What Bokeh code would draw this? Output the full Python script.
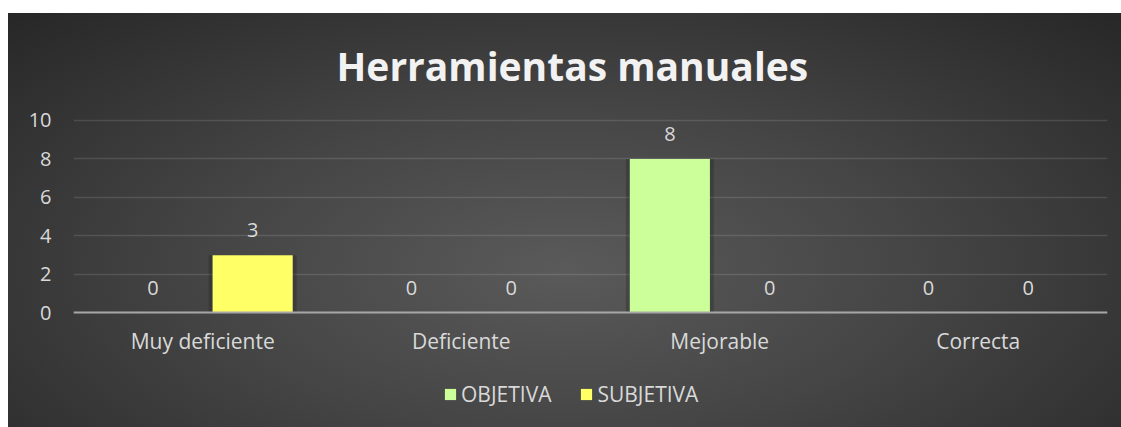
from bokeh.plotting import figure
from bokeh.models import (ColumnDataSource, Range1d, FixedTicker, Legend, LegendItem,
                          LabelSet, Title)
from bokeh.core.properties import value
from bokeh.transform import dodge
from bokeh.embed import file_html
from bokeh.resources import INLINE

categories = ["Muy deficiente", "Deficiente", "Mejorable", "Correcta"]
objetiva = [0, 0, 8, 0]
subjetiva = [3, 0, 0, 0]
yticks = [0, 2, 4, 6, 8, 10]
series_names = ["OBJETIVA", "SUBJETIVA"]

source = ColumnDataSource(dict(cat=categories, obj=objetiva, sub=subjetiva,
                               obj_lbl=[str(v) for v in objetiva],
                               sub_lbl=[str(v) for v in subjetiva]))

TEXT = "#d9d9d9"
FONT = "Open Sans"

p = figure(x_range=categories, y_range=Range1d(-5.95, 10.1), width=1113, height=414,
           output_backend="svg", toolbar_location=None,
           min_border_left=65, min_border_right=14, min_border_top=105, min_border_bottom=0)
p.margin = (13, 0, 0, 8)
p.styles = {"background": "radial-gradient(ellipse at 50% 62%, #5a5a5a 0%, #454545 45%, #272727 100%)"}
p.background_fill_alpha = 0
p.border_fill_alpha = 0
p.outline_line_color = None

off = 0.193
bw = 0.31
# soft shadows
for col, o in (("obj", -off), ("sub", off)):
    p.vbar(x=dodge("cat", o, range=p.x_range), top=col, width=bw + 0.03, source=source,
           fill_color="black", fill_alpha=0.18, line_color=None)
r1 = p.vbar(x=dodge("cat", -off, range=p.x_range), top="obj", width=bw, source=source,
            fill_color="#CCFF99", line_color=None)
r2 = p.vbar(x=dodge("cat", off, range=p.x_range), top="sub", width=bw, source=source,
            fill_color="#FFFF66", line_color=None)

for col, lbl, o in (("obj", "obj_lbl", -off), ("sub", "sub_lbl", off)):
    p.add_layout(LabelSet(x=dodge("cat", o, range=p.x_range), y=col, text=lbl, source=source,
                          text_align="center", text_baseline="middle", y_offset=25,
                          text_color=TEXT, text_font=value(FONT), text_font_size="20px"))

title = Title(text="Herramientas manuales", align="left", vertical_align="top",
              text_font=FONT, text_font_size="39px", text_font_style="bold",
              text_color="#f2f2f2", standoff=50, offset=263)
p.add_layout(title, "above")

p.yaxis.ticker = FixedTicker(ticks=yticks)
p.yaxis.axis_line_color = None
p.yaxis.major_tick_line_color = None
p.yaxis.minor_tick_line_color = None
p.yaxis.major_label_standoff = 16
p.yaxis.major_label_text_color = TEXT
p.yaxis.major_label_text_font = FONT
p.yaxis.major_label_text_font_size = "20px"

p.xaxis.fixed_location = 0
p.xaxis.axis_line_color = "#a6a6a6"
p.xaxis.axis_line_width = 2
p.xaxis.major_tick_line_color = None
p.xaxis.minor_tick_line_color = None
p.xaxis.major_label_standoff = 8
p.xaxis.major_label_text_color = TEXT
p.xaxis.major_label_text_font = FONT
p.xaxis.major_label_text_font_size = "21px"

p.xgrid.grid_line_color = None
p.ygrid.grid_line_color = "#ffffff"
p.ygrid.grid_line_alpha = 0.12
p.ygrid.grid_line_width = 1.5

legend = Legend(items=[LegendItem(label=series_names[0], renderers=[r1]),
                       LegendItem(label=series_names[1], renderers=[r2])],
                orientation="horizontal", location=(370, 19),
                background_fill_alpha=0, border_line_color=None,
                label_text_color=TEXT, label_text_font=FONT, label_text_font_size="21px",
                glyph_width=14, glyph_height=14, label_standoff=4, spacing=28,
                padding=0, margin=0)
p.add_layout(legend, "center")

open("out.html", "w").write(file_html(p, INLINE))
